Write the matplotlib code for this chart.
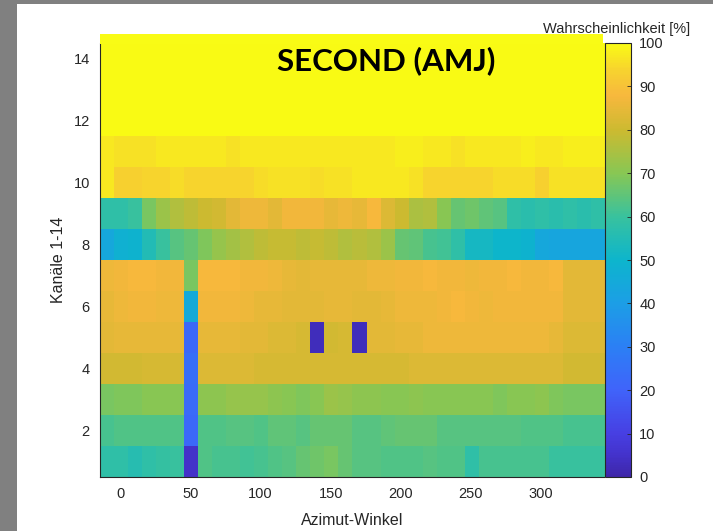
import numpy as np
import matplotlib
matplotlib.use("Agg")
import matplotlib.pyplot as plt
from matplotlib.colors import LinearSegmentedColormap
from matplotlib.patches import Rectangle

# ---------------- data ----------------
azimut = [-10, 0, 10, 20, 30, 40, 50, 60, 70, 80, 90, 100, 110, 120, 130, 140, 150, 160,
          170, 180, 190, 200, 210, 220, 230, 240, 250, 260, 270, 280, 290, 300, 310, 320, 330, 340]
kanaele = [1, 2, 3, 4, 5, 6, 7, 8, 9, 10, 11, 12, 13, 14]

kanal_14 = [100] * 36
kanal_13 = [100] * 36
kanal_12 = [100] * 36
kanal_11 = [97, 96, 96, 96, 97, 97, 97, 97, 97, 96, 97, 97, 97, 97, 97, 97, 97, 97,
            97, 97, 97, 98, 98, 97, 97, 96, 97, 97, 97, 97, 98, 97, 97, 98, 98, 98]
kanal_10 = [97, 93, 93, 94, 94, 95, 94, 94, 94, 94, 94, 95, 96, 96, 96, 95, 96, 96,
            97, 97, 97, 97, 96, 94, 94, 94, 94, 94, 95, 95, 95, 93, 96, 96, 96, 96]
kanal_09 = [58, 58, 60, 68, 73, 76, 78, 80, 81, 84, 86, 86, 84, 87, 87, 87, 85, 86,
            85, 88, 83, 80, 75, 76, 70, 66, 67, 65, 64, 58, 57, 58, 57, 58, 57, 58]
kanal_08 = [44, 48, 49, 55, 60, 64, 66, 69, 72, 74, 76, 78, 79, 79, 78, 79, 78, 76,
            77, 76, 73, 66, 65, 62, 61, 58, 52, 52, 50, 50, 49, 44, 43, 43, 43, 43]
kanal_07 = [86, 87, 88, 88, 87, 87, 68, 88, 88, 88, 87, 87, 86, 85, 84, 85, 85, 85,
            85, 86, 86, 87, 87, 88, 87, 87, 86, 87, 87, 88, 87, 87, 88, 84, 84, 84]
kanal_06 = [85, 86, 87, 87, 86, 86, 45, 87, 87, 87, 86, 85, 85, 84, 84, 84, 85, 85,
            84, 84, 85, 86, 86, 86, 87, 88, 87, 86, 87, 87, 87, 87, 87, 84, 84, 84]
kanal_05 = [84, 85, 85, 85, 85, 85, 22, 85, 85, 85, 84, 84, 83, 83, 82, 3, 81, 82,
            3, 84, 84, 85, 85, 86, 86, 86, 86, 86, 86, 86, 86, 86, 85, 83, 83, 83]
kanal_04 = [81, 81, 81, 82, 82, 82, 24, 83, 83, 83, 83, 82, 82, 82, 82, 82, 82, 82,
            82, 82, 82, 82, 83, 83, 83, 83, 83, 83, 83, 83, 83, 83, 83, 81, 81, 81]
kanal_03 = [68, 69, 69, 70, 70, 70, 23, 71, 71, 72, 72, 72, 71, 70, 69, 70, 73, 72,
            71, 71, 70, 70, 71, 70, 70, 70, 70, 70, 69, 70, 70, 71, 69, 68, 68, 68]
kanal_02 = [62, 63, 63, 63, 63, 63, 22, 63, 63, 64, 64, 63, 65, 65, 64, 66, 66, 66,
            64, 64, 65, 66, 66, 66, 64, 64, 64, 64, 64, 64, 63, 63, 63, 62, 62, 62]
kanal_01 = [58, 58, 56, 58, 59, 60, 5, 63, 62, 62, 61, 62, 63, 64, 66, 67, 68, 66,
            64, 64, 63, 63, 63, 64, 63, 63, 58, 62, 62, 62, 62, 62, 60, 60, 60, 60]

colorbar_ticks = [0, 10, 20, 30, 40, 50, 60, 70, 80, 90, 100]
x_ticks = [0, 50, 100, 150, 200, 250, 300]
y_ticks = [2, 4, 6, 8, 10, 12, 14]

# ---------------- colormap (parula-like) ----------------
parula_pts = [
    (0.00, (0.2422, 0.1504, 0.6603)),
    (0.05, (0.2650, 0.2000, 0.8000)),
    (0.10, (0.2770, 0.2500, 0.8900)),
    (0.20, (0.2500, 0.3900, 0.9800)),
    (0.30, (0.1700, 0.5000, 0.9600)),
    (0.40, (0.1100, 0.6200, 0.9000)),
    (0.50, (0.0500, 0.7100, 0.8000)),
    (0.60, (0.2200, 0.7600, 0.6200)),
    (0.70, (0.5300, 0.7800, 0.3300)),
    (0.80, (0.8000, 0.7300, 0.1900)),
    (0.88, (0.9700, 0.7200, 0.2400)),
    (0.94, (0.9700, 0.8300, 0.1800)),
    (1.00, (0.9769, 0.9839, 0.0805)),
]
parula = LinearSegmentedColormap.from_list("parula_like", parula_pts, N=256)

rows = [kanal_01, kanal_02, kanal_03, kanal_04, kanal_05, kanal_06, kanal_07,
        kanal_08, kanal_09, kanal_10, kanal_11, kanal_12, kanal_13, kanal_14]
data = np.array(rows, dtype=float)

# ---------------- figure ----------------
W, H = 713, 531
fig = plt.figure(figsize=(W / 100, H / 100), dpi=100)
fig.patch.set_facecolor("white")
plt.rcParams["font.family"] = ["Liberation Sans", "DejaVu Sans"]

def fx(px):
    return px / W

def fy(py):
    return 1 - py / H

# grey frame (screenshot border)
fig.patches.append(Rectangle((0, 0), fx(17), 1, transform=fig.transFigure,
                             facecolor="#808080", edgecolor="none", zorder=0))
fig.patches.append(Rectangle((0, fy(4)), 1, 4 / H, transform=fig.transFigure,
                             facecolor="#808080", edgecolor="none", zorder=0))

ax_l, ax_r, ax_t, ax_b = 99.5, 604, 43, 477
ax = fig.add_axes([fx(ax_l), fy(ax_b), fx(ax_r - ax_l), (ax_b - ax_t) / H])

dx = azimut[1] - azimut[0]
extent = [azimut[0] - dx / 2, azimut[-1] + dx / 2, kanaele[0] - 0.5, kanaele[-1] + 0.5]
im = ax.imshow(data, extent=extent, origin="lower", aspect="auto", cmap=parula,
               vmin=0, vmax=100, interpolation="nearest")
ax.set_xlim(extent[0], extent[1])
ax.set_ylim(extent[2], extent[3])
ax.set_xticks(x_ticks)
ax.set_yticks(y_ticks)
ax.tick_params(axis="both", length=0, labelsize=10.5, colors="#262626", pad=7)
for s in ["top", "right"]:
    ax.spines[s].set_visible(False)
for s in ["left", "bottom"]:
    ax.spines[s].set_color("#262626")
    ax.spines[s].set_linewidth(0.8)

ax.set_xlabel("Azimut-Winkel", fontsize=11.5, color="#262626")
ax.xaxis.set_label_coords(0.5, -0.082)
ax.set_ylabel("Kanäle 1-14", fontsize=11.5, color="#262626")
ax.yaxis.set_label_coords(-0.066, 0.5)

# colorbar
cax = fig.add_axes([fx(605), fy(ax_b), fx(26), (ax_b - ax_t) / H])
cb = fig.colorbar(im, cax=cax, ticks=colorbar_ticks)
cb.outline.set_edgecolor("#262626")
cb.outline.set_linewidth(0.8)
cax.tick_params(direction="in", length=3, width=0.6, labelsize=10.5,
                colors="#262626", pad=6)
fig.text(fx(617), fy(29), "Wahrscheinlichkeit [%]", ha="center", va="center",
         fontsize=10.5, color="#262626")

# yellow overlay box above heat map
fig.patches.append(Rectangle((fx(100), fy(44)), fx(503), 10 / H, transform=fig.transFigure,
                             facecolor=parula(1.0), edgecolor="none", zorder=5))

# title text overlay
fig.text(fx(386), fy(61), "SECOND (AMJ)", ha="center", va="center", fontsize=22.5,
         fontweight="bold", family=["Lato", "DejaVu Sans"], color="black", zorder=10)

fig.savefig("out.png", dpi=100)
